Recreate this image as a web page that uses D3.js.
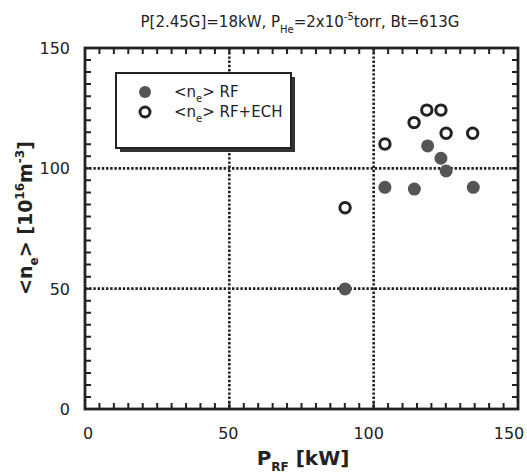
<!DOCTYPE html>
<html>
<head>
<meta charset="utf-8">
<script src="https://cdn.jsdelivr.net/npm/d3@7"></script>
<style>
  body { margin: 0; background: #fff; }
  svg text { font-family: "DejaVu Sans", sans-serif; fill: #222; }
</style>
</head>
<body>
<div id="chart"></div>
<script>
// RF only
const rfPower = [90.1, 103.9, 114.1, 118.7, 123.3, 125.1, 134.5]
const rfDensity = [49.9, 92.1, 91.4, 109.3, 104.2, 98.9, 92.1]
// RF + ECH
const echPower = [90.1, 103.9, 114.0, 118.4, 123.3, 125.1, 134.3]
const echDensity = [83.6, 110.1, 119.0, 124.2, 124.2, 114.6, 114.6]

const xTicks = [0, 50, 100, 150]
const yTicks = [0, 50, 100, 150]
const gridValues = [50, 100]

const W = 527, H = 474
const margin = {top: 48, right: 9, bottom: 65, left: 85}
const width = W - margin.left - margin.right
const height = H - margin.top - margin.bottom

const svg = d3.select("#chart").append("svg")
    .attr("width", W)
    .attr("height", H)

const pad = svg.append("g")
    .attr("transform", `translate(${margin.left},${margin.top})`)

const x = d3.scaleLinear().domain([0, 150]).range([0, width])
const y = d3.scaleLinear().domain([0, 150]).range([height, 0])

const minor = d3.range(5, 150, 5)
const tickLen = 6

// dotted grid
pad.append("g").selectAll("line")
    .data(gridValues).enter().append("line")
    .attr("x1", d => x(d)).attr("x2", d => x(d))
    .attr("y1", 0).attr("y2", height)
    .attr("stroke", "#222").attr("stroke-width", 2.6)
    .attr("stroke-dasharray", "2.4,1.8")
pad.append("g").selectAll("line")
    .data(gridValues).enter().append("line")
    .attr("y1", d => y(d)).attr("y2", d => y(d))
    .attr("x1", 0).attr("x2", width)
    .attr("stroke", "#222").attr("stroke-width", 2.6)
    .attr("stroke-dasharray", "2.4,1.8")

// inward minor ticks on all four sides
const tickPath = d3.path()
for (const v of minor) {
    const px = x(v), py = y(v)
    tickPath.moveTo(px, height); tickPath.lineTo(px, height - tickLen)
    tickPath.moveTo(px, 0); tickPath.lineTo(px, tickLen)
    tickPath.moveTo(0, py); tickPath.lineTo(tickLen, py)
    tickPath.moveTo(width, py); tickPath.lineTo(width - tickLen, py)
}
pad.append("path")
    .attr("class", "minor-ticks")
    .attr("d", tickPath.toString())
    .attr("fill", "none")
    .attr("stroke", "#222").attr("stroke-width", 2)

// frame
pad.append("rect")
    .attr("width", width).attr("height", height)
    .attr("fill", "none").attr("stroke", "#222").attr("stroke-width", 2.8)

// tick labels
pad.append("g").selectAll("text")
    .data(xTicks).enter().append("text")
    .attr("x", d => x(d) - d / 150 * 12 + 3)
    .attr("y", height + 30)
    .attr("text-anchor", "middle")
    .style("font-size", "16px")
    .text(d => d)
pad.append("g").selectAll("text")
    .data(yTicks).enter().append("text")
    .attr("x", -15)
    .attr("y", d => y(d) + 6)
    .attr("text-anchor", "end")
    .style("font-size", "16px")
    .text(d => d)

// points
const rf = rfPower.map((p, i) => [p, rfDensity[i]])
const ech = echPower.map((p, i) => [p, echDensity[i]])

pad.append("g").selectAll("circle")
    .data(rf).enter().append("circle")
    .attr("cx", d => x(d[0])).attr("cy", d => y(d[1]))
    .attr("r", 6.5)
    .attr("fill", "#555")
pad.append("g").selectAll("circle")
    .data(ech).enter().append("circle")
    .attr("cx", d => x(d[0])).attr("cy", d => y(d[1]))
    .attr("r", 5.2)
    .attr("fill", "none").attr("stroke", "#222").attr("stroke-width", 3)

// legend
const legend = svg.append("g").attr("transform", "translate(116,73)")
legend.append("rect")
    .attr("x", 4).attr("y", 4).attr("width", 175).attr("height", 75)
    .attr("fill", "#333")
legend.append("rect")
    .attr("width", 175).attr("height", 75)
    .attr("fill", "#fff").attr("stroke", "#222").attr("stroke-width", 2)
legend.append("circle").attr("cx", 29).attr("cy", 19).attr("r", 6).attr("fill", "#555")
legend.append("circle").attr("cx", 29).attr("cy", 39).attr("r", 5)
    .attr("fill", "none").attr("stroke", "#222").attr("stroke-width", 3)
const l1 = legend.append("text").attr("x", 58).attr("y", 24).style("font-size", "15px")
l1.append("tspan").text("<n")
l1.append("tspan").attr("dy", 5).style("font-size", "10px").text("e")
l1.append("tspan").attr("dy", -5).text("> RF")
const l2 = legend.append("text").attr("x", 58).attr("y", 44).style("font-size", "15px")
l2.append("tspan").text("<n")
l2.append("tspan").attr("dy", 5).style("font-size", "10px").text("e")
l2.append("tspan").attr("dy", -5).text("> RF+ECH")

// title
const title = svg.append("text")
    .attr("x", 300).attr("y", 27)
    .attr("text-anchor", "middle")
    .style("font-size", "15px")
title.append("tspan").text("P[2.45G]=18kW, P")
title.append("tspan").attr("dy", 6).style("font-size", "10px").text("He")
title.append("tspan").attr("dy", -6).text("=2x10")
title.append("tspan").attr("dy", -7).style("font-size", "10px").text("-5")
title.append("tspan").attr("dy", 7).text("torr, Bt=613G")

// x axis title
const xt = svg.append("text")
    .attr("x", 303).attr("y", 465)
    .attr("text-anchor", "middle")
    .style("font-size", "20px").style("font-weight", "bold")
xt.append("tspan").text("P")
xt.append("tspan").attr("dy", 6).style("font-size", "12px").text("RF")
xt.append("tspan").attr("dy", -6).text(" [kW]")

// y axis title
const yt = svg.append("text")
    .attr("transform", "translate(32,218) rotate(-90)")
    .attr("text-anchor", "middle")
    .style("font-size", "19px").style("font-weight", "bold")
yt.append("tspan").text("<n")
yt.append("tspan").attr("dy", 6).style("font-size", "12px").text("e")
yt.append("tspan").attr("dy", -6).text("> [10")
yt.append("tspan").attr("dy", -8).style("font-size", "12px").text("16")
yt.append("tspan").attr("dy", 8).text("m")
yt.append("tspan").attr("dy", -8).style("font-size", "12px").text("-3")
yt.append("tspan").attr("dy", 8).text("]")
</script>
</body>
</html>
